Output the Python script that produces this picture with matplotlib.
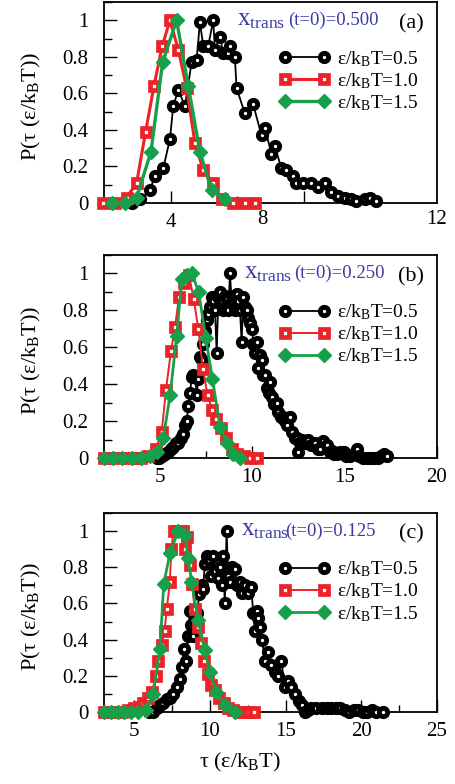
import matplotlib
matplotlib.use("Agg")
import matplotlib.pyplot as plt
from matplotlib.ticker import FixedLocator, MultipleLocator
import matplotlib.transforms as mtransforms

plt.rcParams['font.family'] = ['Liberation Serif', 'DejaVu Serif']
plt.rcParams['mathtext.fontset'] = 'custom'
plt.rcParams['mathtext.rm'] = 'Liberation Serif'
plt.rcParams['mathtext.it'] = 'Liberation Serif:italic'

# ---- panel (a): x_trans(t=0)=0.500 ----
tau_a_05 = [2.83, 3.08, 3.38, 3.53, 3.78, 3.98, 4.08, 4.23, 4.43, 4.63, 4.78, 4.88, 4.98,
            5.13, 5.28, 5.33, 5.48, 5.58, 5.73, 5.78, 5.93, 5.98, 6.23, 6.48, 6.73, 6.83,
            7.03, 7.13, 7.33, 7.48, 7.68, 7.78, 7.98, 8.23, 8.43, 8.63, 8.83, 9.03, 9.23,
            9.43, 9.58, 9.83, 9.98, 10.18]
p_a_05 = [0.0, 0.02, 0.07, 0.15, 0.19, 0.35, 0.53, 0.62, 0.53, 0.77, 0.78, 0.99, 0.86,
          0.86, 1.0, 0.84, 0.91, 0.82, 0.82, 0.86, 0.80, 0.63, 0.49, 0.54, 0.37, 0.41,
          0.27, 0.31, 0.19, 0.18, 0.15, 0.11, 0.11, 0.11, 0.09, 0.11, 0.06, 0.04, 0.03,
          0.02, 0.01, 0.02, 0.03, 0.01]
tau_a_10 = [1.98, 2.33, 2.68, 2.98, 3.25, 3.5, 3.75, 3.98, 4.23, 4.48, 4.73, 4.98, 5.28,
            5.53, 5.88, 6.23, 6.53]
p_a_10 = [0.0, 0.0, 0.03, 0.11, 0.39, 0.64, 0.86, 1.0, 0.84, 0.63, 0.33, 0.18, 0.11,
          0.02, 0.0, 0.0, 0.0]
tau_a_15 = [2.25, 2.63, 2.98, 3.41, 3.76, 4.18, 4.53, 4.88, 5.23, 5.63]
p_a_15 = [0.0, 0.0, 0.03, 0.28, 0.77, 1.0, 0.64, 0.28, 0.07, 0.02]

# ---- panel (b): x_trans(t=0)=0.250 ----
tau_b_05 = [4.85, 5.0, 5.15, 5.3, 5.48, 5.6, 5.75, 5.9, 6.02, 6.15, 6.29, 6.4, 6.47, 6.56,
            6.65, 6.74, 6.83, 6.92, 7.01, 7.1, 7.2, 7.28, 7.37, 7.46, 7.55, 7.64, 7.73,
            7.82, 7.91, 8.0, 8.09, 8.18, 8.27, 8.36, 8.45, 8.54, 8.63, 8.72, 8.81, 8.9,
            8.99, 9.08, 9.17, 9.26, 9.35, 9.44, 9.53, 9.62, 9.71, 9.8, 9.89, 10.0, 10.07,
            10.16, 10.25, 10.34, 10.43, 10.52, 10.61, 10.7, 10.8, 10.9, 11.0, 11.06, 11.2,
            11.33, 11.42, 11.55, 11.69, 11.8, 11.9, 12.05, 12.15, 12.3, 12.41, 12.5, 12.6,
            12.7, 12.85, 13.04, 13.2, 13.4, 13.55, 13.67, 13.85, 14.04, 14.2, 14.3, 14.45,
            14.58, 14.75, 14.95, 15.1, 15.3, 15.5, 15.66, 15.8, 16.0, 16.2, 16.4, 16.6,
            16.8, 17.0, 17.15, 17.3]
p_b_05 = [0.0, 0.0, 0.01, 0.02, 0.03, 0.05, 0.06, 0.08, 0.08, 0.11, 0.13, 0.18, 0.2, 0.28,
          0.35, 0.44, 0.45, 0.44, 0.34, 0.43, 0.55, 0.53, 0.62, 0.69, 0.75, 0.78, 0.82,
          0.87, 0.85, 0.8, 0.57, 0.87, 0.9, 0.85, 0.8, 0.88, 0.86, 0.8, 1.0, 0.85,
          0.88, 0.8, 0.89, 0.85, 0.8, 0.63, 0.87, 0.82, 0.8, 0.76, 0.73, 0.7, 0.62,
          0.57, 0.63, 0.49, 0.56, 0.53, 0.45, 0.45, 0.38, 0.35, 0.41, 0.33, 0.29,
          0.3, 0.25, 0.22, 0.22, 0.2, 0.18, 0.22, 0.14, 0.11, 0.11, 0.03, 0.08,
          0.1, 0.08, 0.1, 0.07, 0.08, 0.05, 0.05, 0.09, 0.07, 0.03, 0.04, 0.02,
          0.02, 0.03, 0.03, 0.01, 0.01, 0.02, 0.05, 0.01, 0.0, 0.0, 0.0, 0.0,
          0.0, 0.01, 0.02, 0.01]
tau_b_10 = [2.0, 2.4, 2.8, 3.2, 3.6, 4.0, 4.4, 4.8, 5.12, 5.35, 5.62, 5.84, 6.05, 6.3,
            6.6, 6.85, 7.1, 7.35, 7.6, 7.85, 8.08, 8.33, 8.6, 8.9, 9.2, 9.55, 9.9, 10.25]
p_b_10 = [0.0, 0.0, 0.0, 0.0, 0.0, 0.0, 0.01, 0.05, 0.14, 0.37, 0.58, 0.71, 0.87, 0.95,
          0.99, 0.86, 0.70, 0.48, 0.34, 0.26, 0.21, 0.16, 0.11, 0.05, 0.02, 0.01, 0.0, 0.0]
tau_b_15 = [2.0, 2.5, 3.0, 3.5, 4.0, 4.5, 4.85, 5.21, 5.57, 5.93, 6.2, 6.47, 6.74, 7.12,
            7.5, 7.86, 8.27, 8.63, 8.99, 9.35]
p_b_15 = [0.0, 0.0, 0.0, 0.0, 0.0, 0.01, 0.03, 0.11, 0.34, 0.66, 0.97, 0.99, 1.0, 0.9,
          0.65, 0.43, 0.17, 0.08, 0.02, 0.0]

# ---- panel (c): x_trans(t=0)=0.125 ----
tau_c_05 = [6.0, 6.25, 6.5, 6.7, 6.9, 7.13, 7.35, 7.57, 7.8, 8.0, 8.15, 8.3, 8.45, 8.56,
            8.67, 8.78, 8.9, 9.0, 9.15, 9.3, 9.45, 9.55, 9.66, 9.8, 9.95, 10.1, 10.2,
            10.35, 10.5, 10.65, 10.8, 10.87, 10.98, 11.1, 11.2, 11.3, 11.45, 11.65, 11.8,
            11.98, 12.15, 12.3, 12.5, 12.74, 12.85, 12.97, 13.1, 13.19, 13.3, 13.45, 13.62,
            13.84, 14.05, 14.28, 14.5, 14.72, 14.94, 15.15, 15.38, 15.6, 15.85, 16.05,
            16.3, 16.5, 16.7, 17.0, 17.37, 17.7, 18.0, 18.3, 18.6, 18.9, 19.2, 19.5,
            19.8, 20.1, 20.4, 20.7, 21.0, 21.4]
p_c_05 = [0.0, 0.0, 0.02, 0.04, 0.05, 0.07, 0.08, 0.1, 0.14, 0.18, 0.25, 0.35, 0.28, 0.42,
          0.56, 0.48, 0.42, 0.5, 0.55, 0.65, 0.7, 0.68, 0.82, 0.86, 0.84, 0.75, 0.86,
          0.78, 0.74, 0.8, 0.7, 0.86, 0.6, 1.0, 0.75, 0.72, 0.8, 0.79, 0.7,
          0.72, 0.66, 0.7, 0.66, 0.69, 0.55, 0.45, 0.56, 0.52, 0.47, 0.4, 0.28,
          0.33, 0.26, 0.22, 0.2, 0.28, 0.14, 0.17, 0.14, 0.1, 0.06, 0.04,
          0.0, 0.01, 0.02, 0.02, 0.02, 0.02, 0.02, 0.02, 0.02, 0.01, 0.0, 0.01,
          0.01, 0.0, 0.0, 0.01, 0.0, 0.0]
tau_c_10 = [3.0, 3.4, 3.8, 4.2, 4.6, 5.0, 5.3, 5.6, 5.9, 6.15, 6.45, 6.6, 6.8, 7.0, 7.15,
            7.35, 7.45, 7.6, 7.8, 8.0, 8.2, 8.35, 8.5, 8.65, 8.8, 9.0, 9.2, 9.4, 9.6,
            9.85, 10.1, 10.35, 10.6, 10.9, 11.2, 11.5, 11.9, 12.3, 12.6, 12.9]
p_c_10 = [0.0, 0.0, 0.0, 0.0, 0.01, 0.02, 0.03, 0.05, 0.08, 0.11, 0.2, 0.28, 0.37, 0.45,
          0.57, 0.72, 0.9, 1.0, 1.0, 1.0, 1.0, 0.9, 0.97, 0.81, 0.71, 0.57, 0.47, 0.38,
          0.28, 0.21, 0.15, 0.12, 0.08, 0.05, 0.02, 0.01, 0.0, 0.0, 0.0, 0.0]
tau_c_15 = [3.0, 3.45, 3.9, 4.35, 4.8, 5.25, 5.75, 6.25, 6.7, 6.95, 7.36, 7.9, 8.35, 8.56,
            8.78, 9.22, 9.66, 10.0, 10.43, 10.98, 11.65]
p_c_15 = [0.0, 0.0, 0.0, 0.0, 0.0, 0.0, 0.01, 0.1, 0.35, 0.71, 0.88, 1.0, 0.98, 0.85,
          0.72, 0.51, 0.34, 0.22, 0.11, 0.04, 0.0]

legend_labels = [r'ε/k$_\mathrm{B}$T=0.5', r'ε/k$_\mathrm{B}$T=1.0', r'ε/k$_\mathrm{B}$T=1.5']
xtrans_values = ['(t=0)=0.500', '(t=0)=0.250', '(t=0)=0.125']
panel_tags = ['(a)', '(b)', '(c)']
y_ticks = [0, 0.2, 0.4, 0.6, 0.8, 1.0]
y_ticklabels = ['0', '0.2', '0.4', '0.6', '0.8', '1']

BLACK = 'black'
RED = '#ec2227'
GREEN = '#16a04a'
BLUE = '#3b3ba6'

W, H = 456, 784
fig = plt.figure(figsize=(W / 100, H / 100), dpi=100)

# axes boxes in pixel units (left, top, right, bottom)
boxes = [(104, 2, 437, 203), (104, 255, 437, 458), (104, 513, 437, 712)]
axes = []
for l, t, r, b in boxes:
    axes.append(fig.add_axes([l / W, 1 - b / H, (r - l) / W, (b - t) / H]))

data = [
    [(tau_a_05, p_a_05), (tau_a_10, p_a_10), (tau_a_15, p_a_15)],
    [(tau_b_05, p_b_05), (tau_b_10, p_b_10), (tau_b_15, p_b_15)],
    [(tau_c_05, p_c_05), (tau_c_10, p_c_10), (tau_c_15, p_c_15)],
]
line_w = [(1.3, 2.2, 2.4), (1.3, 1.4, 2.0), (1.3, 1.4, 2.0)]
xt_x = [0.40, 0.42, 0.412]      # where "x_trans" starts (axes fraction)
xt_val = [0.553, 0.572, 0.545]  # where "(t=0)=..." starts

for i, ax in enumerate(axes):
    (xb, yb), (xr, yr), (xg, yg) = data[i]
    lwb, lwr, lwg = line_w[i]
    # thick edges leave only a small white dot inside each marker
    ax.plot(xb, yb, '-o', color=BLACK, lw=lwb, ms=6.0, mfc='white', mec=BLACK,
            mew=3.5, clip_on=False, zorder=3, label=legend_labels[0])
    ax.plot(xr, yr, '-s', color=RED, lw=lwr, ms=5.2, mfc='white', mec=RED,
            mew=3.4, clip_on=False, zorder=4, label=legend_labels[1])
    ax.plot(xg, yg, '-D', color=GREEN, lw=lwg, ms=7.2, mfc=GREEN, mec=GREEN,
            mew=1.0, clip_on=False, zorder=5, label=legend_labels[2])

    ax.set_ylim(0, 1.1)
    ax.set_yticks(y_ticks)
    ax.set_yticklabels(y_ticklabels)
    ax.yaxis.set_minor_locator(MultipleLocator(0.1))
    ax.tick_params(axis='both', which='both', direction='in', top=False, right=False,
                   labelsize=15)
    ax.tick_params(axis='y', which='major', length=9, width=1, pad=11)
    ax.tick_params(axis='y', which='minor', length=6, width=1)
    ax.tick_params(axis='x', which='major', length=9, width=1, pad=7)
    ax.tick_params(axis='x', which='minor', length=5, width=1)
    for sp in ax.spines.values():
        sp.set_linewidth(1.3)

    ax.legend(loc='upper left', bbox_to_anchor=(0.525, 0.765), frameon=False, numpoints=2,
              fontsize=14, handlelength=2.6, handletextpad=0.4, labelspacing=0.12,
              borderpad=0, borderaxespad=0)

    ax.text(xt_x[i], 0.885, r'x$_\mathrm{trans}$',
            transform=ax.transAxes, fontsize=18, color=BLUE, va='baseline', ha='left')
    ax.text(xt_val[i], 0.885, xtrans_values[i], transform=ax.transAxes,
            fontsize=13.5, color=BLUE, va='baseline', ha='left')
    ax.text(0.922, 0.87, panel_tags[i], transform=ax.transAxes, fontsize=16,
            va='baseline', ha='center')

    fig.text(31 / W, 1 - ((boxes[i][1] + boxes[i][3]) / 2 + 4) / H,
             r'P(τ (ε/k$_\mathrm{B}$T))', rotation=90, fontsize=16,
             ha='center', va='center')

# panel (a) x axis
ax = axes[0]
ax.set_xlim(2, 12)
ax.set_xticks([4, 8])
ax.set_xticklabels(['4', ''])
ax.xaxis.set_minor_locator(FixedLocator([6, 10]))
trans = mtransforms.blended_transform_factory(ax.transData, ax.transAxes)
for xv, lab in [(6.77, '8'), (12, '12')]:
    ax.text(xv, -0.035, lab, transform=trans, fontsize=15, ha='center', va='top')

# panel (b)
ax = axes[1]
ax.set_xlim(2, 20)
ax.xaxis.set_major_locator(MultipleLocator(5))
ax.xaxis.set_minor_locator(MultipleLocator(2.5))

# panel (c)
ax = axes[2]
ax.set_xlim(3, 25)
ax.xaxis.set_major_locator(MultipleLocator(5))
ax.xaxis.set_minor_locator(MultipleLocator(2.5))

fig.text(240 / W, 1 - 762 / H, r'τ (ε/k$_\mathrm{B}$T)', fontsize=16, ha='center', va='center')

fig.savefig('out.png', dpi=100)
